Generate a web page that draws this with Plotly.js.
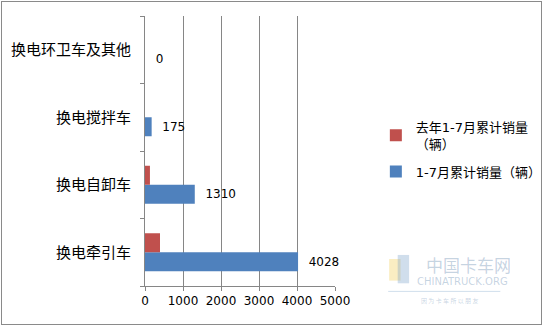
<!DOCTYPE html>
<html><head><meta charset="utf-8">
<script src="https://cdn.plot.ly/plotly-3.0.1.min.js"></script>
<style>
html,body{margin:0;padding:0;background:#fff;}
#wrap{position:relative;width:543px;height:326px;}
#chart{width:543px;height:326px;}
#border{position:absolute;left:1px;top:1px;width:539px;height:322px;border:1px solid #8a8a8a;pointer-events:none;}
</style></head>
<body>
<div id="wrap"><div id="chart"></div><div id="border"></div></div>
<script>
const categories = ['换电牵引车','换电自卸车','换电搅拌车','换电环卫车及其他'];
const thisYear = [4028, 1310, 175, 0];
const lastYear = [395, 130, 0, 0];
const seriesNames = ['1-7月累计销量（辆）', '去年1-7月累计销量<br>（辆）'];
const xTicks = [0, 1000, 2000, 3000, 4000, 5000];

const FONT = 'DejaVu Sans, Noto Sans CJK SC, sans-serif';

const traces = [
  {
    type: 'bar', orientation: 'h', name: seriesNames[0], legendgroup: 'cur', legendrank: 2,
    y: categories, x: thisYear,
    marker: {color: '#4F81BD'},
    text: thisYear.map(v => '\u00a0\u00a0' + v),
    textposition: 'outside', cliponaxis: false,
    textfont: {family: FONT, size: 12, color: '#000'},
    hoverinfo: 'x+y'
  },
  {
    type: 'bar', orientation: 'h', name: seriesNames[1], legendgroup: 'prev', legendrank: 1,
    y: categories, x: lastYear,
    marker: {color: '#C0504D'},
    hoverinfo: 'x+y'
  }
];

const layout = {
  width: 543, height: 326,
  margin: {l: 145, r: 208, t: 16, b: 40, autoexpand: false},
  paper_bgcolor: '#fff', plot_bgcolor: '#fff',
  font: {family: FONT, size: 12, color: '#000'},
  barmode: 'group', bargap: 0.437, bargroupgap: 0,
  showlegend: true,
  legend: {
    x: 1.215, xanchor: 'left', y: 0.645, yanchor: 'top',
    traceorder: 'grouped',
    font: {family: FONT, size: 13, color: '#000'},
    itemwidth: 30, tracegroupgap: 8,
    bgcolor: 'rgba(0,0,0,0)'
  },
  xaxis: {
    range: [0, 5000], tickvals: xTicks, ticktext: xTicks.map(String),
    showgrid: true, gridcolor: '#868686', gridwidth: 1,
    showline: true, linecolor: '#868686', linewidth: 1,
    ticks: 'outside', ticklen: 4, tickcolor: '#868686',
    tickfont: {family: FONT, size: 12, color: '#000'},
    zeroline: false, fixedrange: true
  },
  yaxis: {
    type: 'category', categoryorder: 'array', categoryarray: categories,
    showline: true, linecolor: '#868686', linewidth: 1,
    ticks: 'outside', ticklen: 4, tickcolor: '#868686', tickson: 'boundaries',
    tickfont: {family: FONT, size: 15, color: '#000'},
    ticklabelstandoff: 10,
    showgrid: false, fixedrange: true
  },
  shapes: [
    {type: 'rect', xref: 'paper', yref: 'paper', x0: 1.285, x1: 1.345, y0: 0.02, y1: 0.10,
     fillcolor: 'rgba(245,215,120,0.45)', line: {width: 0}},
    {type: 'rect', xref: 'paper', yref: 'paper', x0: 1.33, x1: 1.39, y0: 0.01, y1: 0.115,
     fillcolor: 'rgba(120,160,200,0.35)', line: {width: 0}},
    {type: 'line', xref: 'paper', yref: 'paper', x0: 1.28, x1: 1.87, y0: -0.02, y1: -0.02,
     line: {color: 'rgba(120,160,200,0.35)', width: 1}}
  ],
  annotations: [
    {xref: 'paper', yref: 'paper', x: 1.70, y: 0.078, xanchor: 'center', yanchor: 'middle',
     text: '中国卡车网', showarrow: false,
     font: {family: 'Noto Sans CJK SC', size: 17, color: 'rgba(90,130,170,0.35)'}},
    {xref: 'paper', yref: 'paper', x: 1.67, y: 0.018, xanchor: 'center', yanchor: 'middle',
     text: 'CHINATRUCK.ORG', showarrow: false,
     font: {family: FONT, size: 10, color: 'rgba(90,130,170,0.35)'}},
    {xref: 'paper', yref: 'paper', x: 1.60, y: -0.055, xanchor: 'center', yanchor: 'middle',
     text: '因 为 卡 车 所 以 朋 友', showarrow: false,
     font: {family: 'Noto Sans CJK SC', size: 6, color: 'rgba(90,130,170,0.35)'}}
  ]
};

Plotly.newPlot('chart', traces, layout, {displayModeBar: false, staticPlot: true});
</script>
</body></html>
